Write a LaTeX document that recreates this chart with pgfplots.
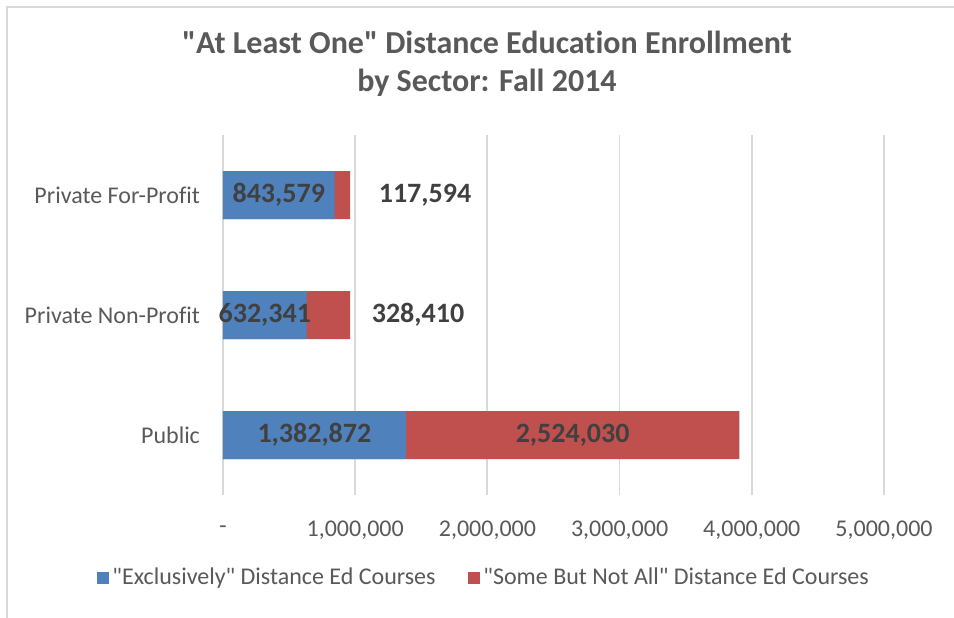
\documentclass[border=0pt]{standalone}
\usepackage{fontspec}
\setmainfont{Carlito}[Ligatures={TeXOff,NoCommon}]
\usepackage{pgfplots}
\usepackage{pgfplotstable}
\pgfplotsset{compat=1.18}

\definecolor{exclC}{HTML}{4F81BD}
\definecolor{someC}{HTML}{C0504D}
\definecolor{gridC}{HTML}{D9D9D9}
\definecolor{txtC}{HTML}{595959}
\definecolor{lblC}{HTML}{404040}

% y: 0 = Public, 1 = Private Non-Profit, 2 = Private For-Profit
% lx = where the label of the second series sits
\pgfplotstableread{
y excl some lx exlab solab
0 1382872 2524030 2644887 1,382,872 2,524,030
1 632341 328410 1475000 632,341 328,410
2 843579 117594 1528000 843,579 117,594
}\enrol

\begin{document}
\begin{tikzpicture}
\path[use as bounding box] (-111.5pt,-61pt) rectangle (365.5pt,247.5pt);
\draw[gridC, line width=0.8pt] (-108pt,-80pt) -- (-108pt,244pt) -- (380pt,244pt);
\begin{axis}[
    scale only axis,
    width=330.5pt, height=180pt,
    xmin=0, xmax=5000000,
    ymin=-0.5, ymax=2.5,
    clip=false,
    axis line style={draw=none},
    major tick length=0pt,
    xmajorgrids=true,
    grid style={gridC, line width=0.9pt},
    scaled x ticks=false,
    xtick={0,1000000,2000000,3000000,4000000,5000000},
    xticklabels={-,{1,000,000},{2,000,000},{3,000,000},{4,000,000},{5,000,000}},
    ytick={0,1,2},
    yticklabels={Public,Private Non-Profit,Private For-Profit},
    tick label style={font=\fontsize{12}{14}\selectfont, text=txtC},
    /pgf/number format/assume math mode=true,
    xticklabel style={anchor=center, yshift=-17.5pt},
    yticklabel style={anchor=east, xshift=-8pt},
    legend columns=2,
    legend style={draw=none, at={(axis description cs:0.396,-0.23)}, anchor=center,
        font=\fontsize{12}{14}\selectfont, text=txtC,
        /tikz/every even column/.append style={column sep=14pt}},
    legend cell align=left,
    every node near coord/.append style={font=\bfseries\fontsize{14}{16}\selectfont, text=lblC, anchor=center},
]
\addlegendimage{legend image code/.code={\fill[exclC] (0pt,-2.75pt) rectangle (5.5pt,2.75pt);}}
\addlegendentry{"Exclusively" Distance Ed Courses}
\addlegendimage{legend image code/.code={\fill[someC] (0pt,-2.75pt) rectangle (5.5pt,2.75pt);}}
\addlegendentry{"Some But Not All" Distance Ed Courses}

% second series drawn as the full stack, first series on top of it
\addplot[xbar, bar width=24pt, bar shift=0pt, fill=someC, draw=none, forget plot]
    table[x expr=\thisrow{excl}+\thisrow{some}, y=y] {\enrol};
\addplot[xbar, bar width=24pt, bar shift=0pt, fill=exclC, draw=none, forget plot]
    table[x=excl, y=y] {\enrol};

% value labels
\addplot[draw=none, mark=none, forget plot, nodes near coords, point meta=explicit symbolic]
    table[x expr=\thisrow{excl}/2, y=y, meta=exlab] {\enrol};
\addplot[draw=none, mark=none, forget plot, nodes near coords, point meta=explicit symbolic]
    table[x=lx, y=y, meta=solab] {\enrol};

\node[align=center, font=\bfseries\fontsize{16}{19}\selectfont, text=txtC]
    at (axis description cs:0.3994,1.1986)
    {"At Least One" Distance Education Enrollment\\by Sector: Fall 2014};
\end{axis}
\end{tikzpicture}
\end{document}
